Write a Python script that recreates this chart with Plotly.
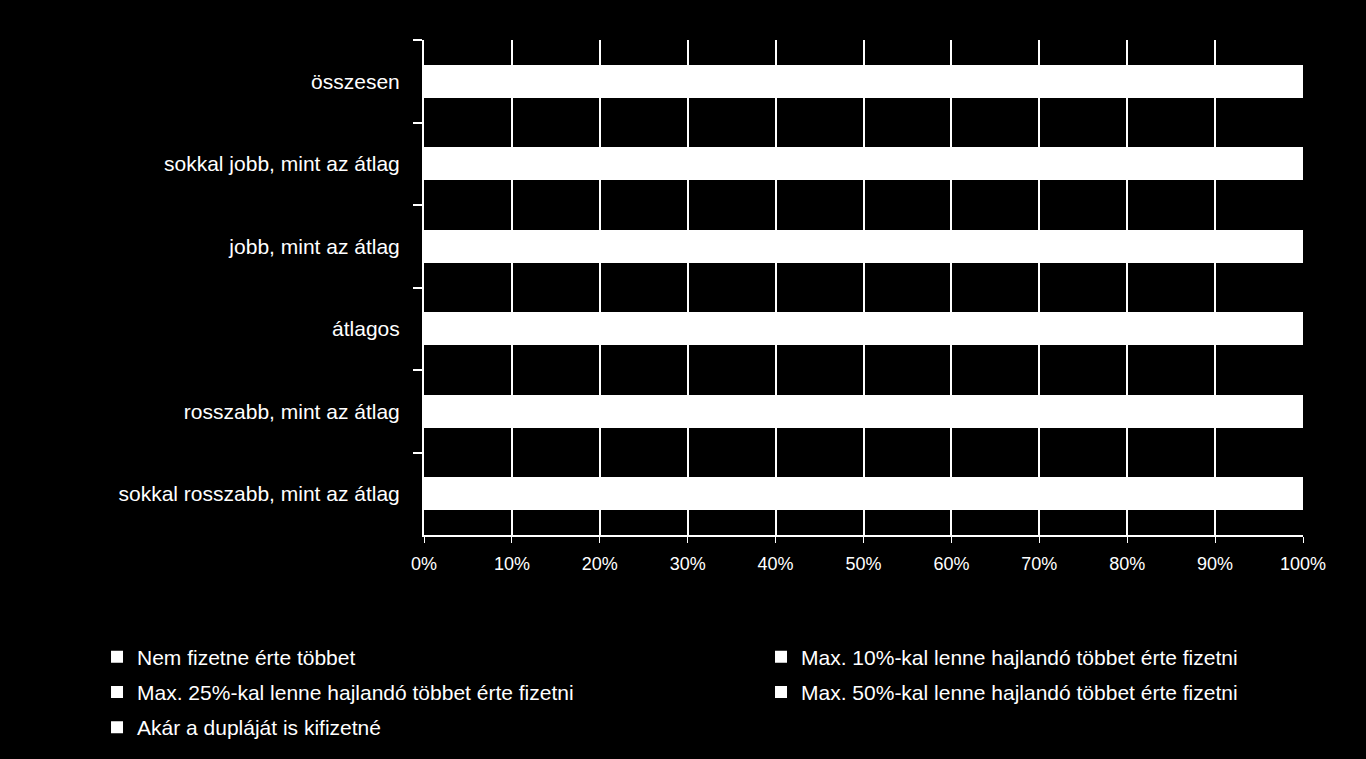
import plotly.graph_objects as go

# categories, top to bottom as in the chart
categories = [
    'összesen',
    'sokkal jobb, mint az átlag',
    'jobb, mint az átlag',
    'átlagos',
    'rosszabb, mint az átlag',
    'sokkal rosszabb, mint az átlag',
]

series_names = [
    'Nem fizetne érte többet',
    'Max. 10%-kal lenne hajlandó többet érte fizetni',
    'Max. 25%-kal lenne hajlandó többet érte fizetni',
    'Max. 50%-kal lenne hajlandó többet érte fizetni',
    'Akár a dupláját is kifizetné',
]

# shares in %, per category (segments are not distinguishable in the picture)
nem_fizetne = [38, 22, 27, 36, 48, 61]
max_10 = [31, 28, 33, 33, 28, 22]
max_25 = [19, 26, 24, 19, 15, 10]
max_50 = [8, 15, 11, 8, 6, 4]
dupla = [4, 9, 5, 4, 3, 3]

series_values = [nem_fizetne, max_10, max_25, max_50, dupla]

x_ticks = [i / 10 for i in range(11)]
x_labels = [f'{i * 10}%' for i in range(11)]

FONT = 'Liberation Sans, Arial, sans-serif'

# legend column for each series: left column 1,3,5 / right column 2,4
legend_ids = ['legend', 'legend2', 'legend', 'legend2', 'legend']

totals = [sum(v) for v in zip(*series_values)]

fig = go.Figure()
for i, (name, values) in enumerate(zip(series_names, series_values)):
    fig.add_trace(go.Bar(
        name=name,
        y=categories,
        x=[v / t for v, t in zip(values, totals)],
        orientation='h',
        marker=dict(color='white', line=dict(width=0)),
        legend=legend_ids[i],
        legendgroup=f'g{i}',
    ))

legend_style = dict(
    orientation='v',
    xanchor='left',
    y=-0.205,
    yanchor='top',
    font=dict(size=21, color='white'),
    itemwidth=30,
    traceorder='grouped',
    tracegroupgap=5,
    bgcolor='rgba(0,0,0,0)',
)

fig.update_layout(
    barmode='stack',
    bargap=0.6,
    width=1366,
    height=759,
    paper_bgcolor='black',
    plot_bgcolor='black',
    font=dict(family=FONT, color='white', size=19),
    margin=dict(l=424, r=63, t=40, b=224),
    showlegend=True,
    legend=dict(x=-0.372, **legend_style),
    legend2=dict(x=0.3834, **legend_style),
    xaxis=dict(
        range=[0, 1],
        tickvals=x_ticks,
        ticktext=x_labels,
        showgrid=True,
        gridcolor='white',
        gridwidth=2,
        zeroline=False,
        showline=True,
        linecolor='white',
        linewidth=2,
        ticks='outside',
        tickcolor='white',
        ticklen=6,
        tickwidth=1,
        ticklabelstandoff=5,
        tickfont=dict(size=18),
    ),
    yaxis=dict(
        autorange='reversed',
        showgrid=False,
        showline=True,
        linecolor='white',
        linewidth=2,
        ticks='outside',
        tickson='boundaries',
        tickcolor='white',
        ticklen=9,
        tickwidth=2,
        ticklabelstandoff=18,
        tickfont=dict(size=21),
    ),
)

fig.write_html(
    'out.html',
    config={'displayModeBar': False},
    post_script="document.body.style.margin='0';document.body.style.background='black';",
)
